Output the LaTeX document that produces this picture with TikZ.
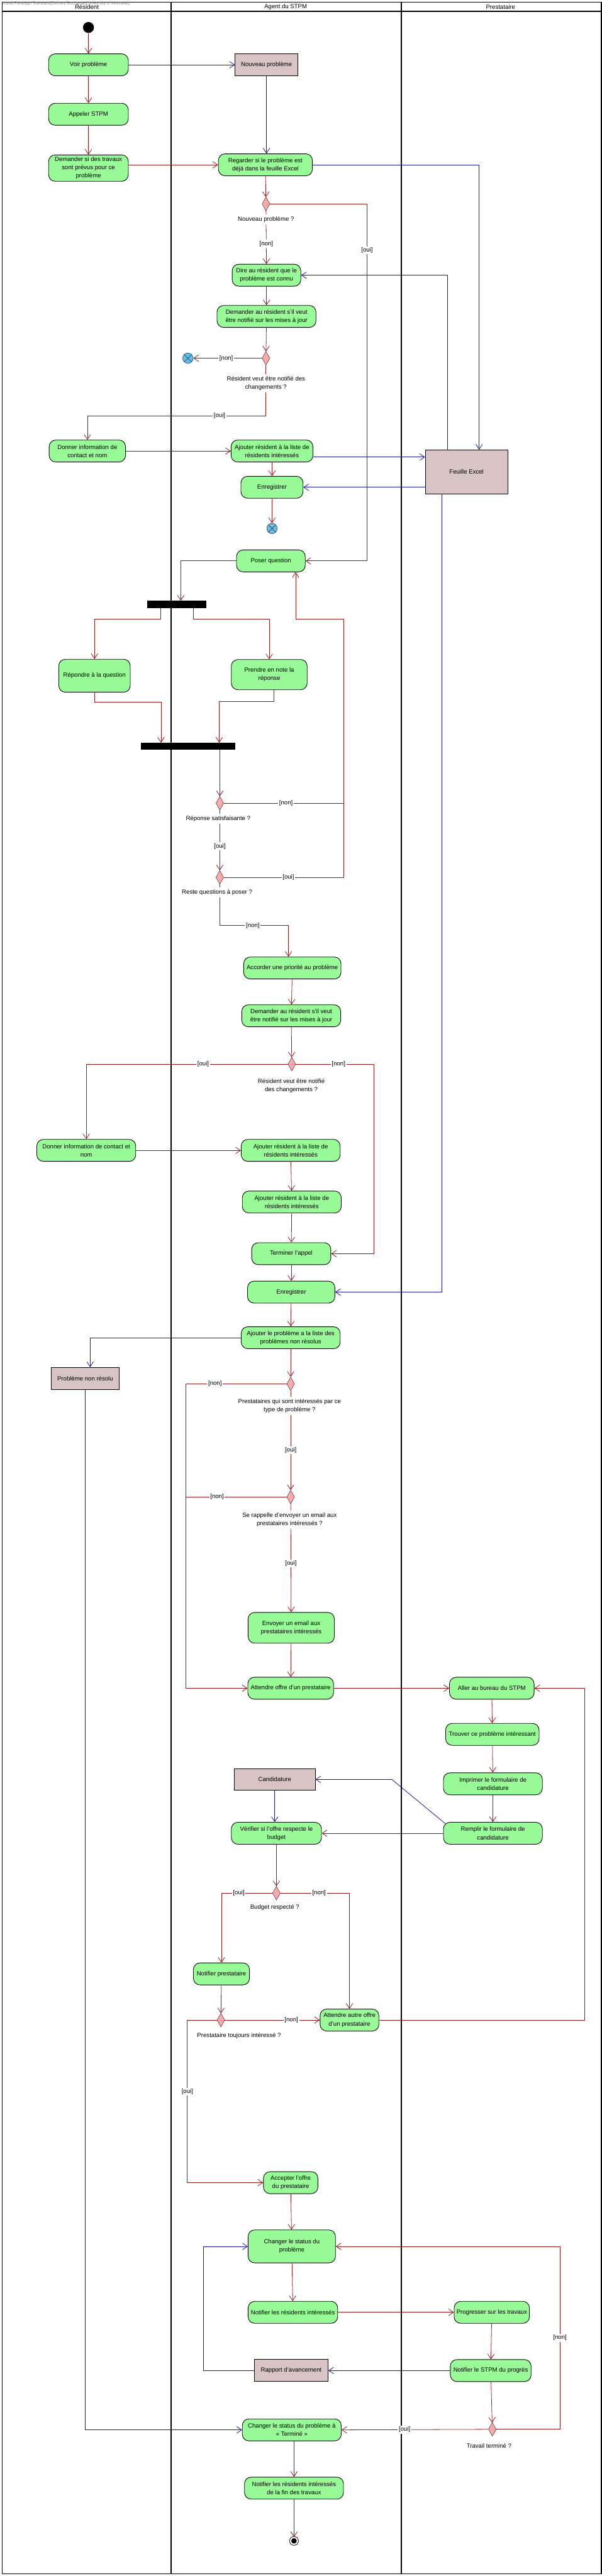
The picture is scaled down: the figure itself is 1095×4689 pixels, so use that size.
\documentclass[tikz,border=0pt]{standalone}
\usepackage{fontspec}
\setmainfont{Liberation Sans}
\usetikzlibrary{arrows.meta, shapes.geometric, positioning}
\definecolor{actgreen}{RGB}{152,251,152}
\definecolor{objfill}{RGB}{216,196,196}
\definecolor{decfill}{RGB}{255,170,170}
\definecolor{flowred}{RGB}{150,20,20}
\definecolor{objblue}{RGB}{20,20,165}
\definecolor{ffblue}{RGB}{100,190,230}
\begin{document}
\begin{tikzpicture}[x=1pt, y=-1pt,
every node/.style = {font=\fontsize{11}{15}\selectfont},
       act/.style = {rectangle, rounded corners=12pt, draw, line width=1pt, fill=actgreen,
                     align=center, inner sep=2pt, minimum height=40pt},
       obj/.style = {rectangle, draw, line width=1pt, fill=objfill, align=center, minimum height=40pt},
       dec/.style = {diamond, draw, fill=decfill, minimum width=14pt, minimum height=25pt, inner sep=0pt},
       bar/.style = {rectangle, fill=black, inner sep=0pt},
     start/.style = {circle, fill=black, minimum size=20pt, inner sep=0pt},
    endact/.style = {circle, fill=black, minimum size=13pt, inner sep=0pt, draw=black,
                     line width=1pt, double=white, double distance=2.5pt},
   endflow/.style = {circle, draw, fill=ffblue, minimum size=19pt, inner sep=0pt,
                     path picture={\draw (path picture bounding box.north west) -- (path picture bounding box.south east)
                                         (path picture bounding box.north east) -- (path picture bounding box.south west);}},
      flow/.style = {draw=flowred, line width=0.9pt, -{Straight Barb[length=9pt,width=12pt]}},
     oflow/.style = {draw=objblue, line width=0.9pt, -{Straight Barb[length=9pt,width=12pt]}},
     guard/.style = {fill=white, inner sep=2pt},
     quest/.style = {fill=white, inner sep=4pt, align=center}
                    ]
\useasboundingbox (0,0) rectangle (1095,4689);
% swimlanes
\draw[line width=2pt] (4,4) rectangle (1094,4685);
\draw[line width=2pt] (4,21) -- (1094,21);
\draw[line width=2pt] (311,4) -- (311,4685);
\draw[line width=2pt] (730,4) -- (730,4685);
\node (wm) [anchor=west, text=gray, font=\fontsize{7.5}{8}\selectfont] at (0,7) {Visual Paradigm Standard(Zachary Bochanski(University of Montreal))};
\node (laneres) at (158,13) {Résident};
\node (laneagt) at (520,13) {Agent du STPM};
\node (lanepre) at (911,13) {Prestataire};

% appel du resident
\node (start) [start] at (161,50) {};
\node (voir) [act, minimum width=145pt] at (161,118) {Voir problème};
\node (nouveau) [obj, minimum width=114pt] at (485,118) {Nouveau problème};
\node (appeler) [act, minimum width=145pt] at (161,208) {Appeler STPM};
\node (demander) [act, minimum width=145pt, minimum height=48pt] at (161,306) {Demander si des travaux\\sont prévus pour ce\\problème};
\node (regarder) [act, minimum width=171pt] at (483,300) {Regarder si le problème est\\déjà dans la feuille Excel};
\node (d1) [dec] at (484,371) {};
\node (dire) [act, minimum width=125pt] at (485,501) {Dire au résident que le\\problème est connu};
\node (dem1) [act, minimum width=180pt] at (485,576) {Demander au résident s'il veut\\être notifié sur les mises à jour};
\node (d2) [dec] at (484,652) {};
\node (ff1) [endflow] at (342,652) {};
\node (donner1) [act, minimum width=139pt] at (159,821) {Donner information de\\contact et nom};
\node (ajout1) [act, minimum width=149pt] at (495,821) {Ajouter résident à la liste de\\résidents intéressés};
\node (feuille) [obj, minimum width=150pt, minimum height=80pt] at (849,859) {Feuille Excel};
\node (enreg1) [act, minimum width=113pt] at (495,887) {Enregistrer};
\node (ff2) [endflow] at (495,962) {};

% questions
\node (poser) [act, minimum width=125pt] at (493,1021) {Poser question};
\node (fork1) [bar, minimum width=108pt, minimum height=13pt] at (322,1100) {};
\node (repondre) [act, minimum width=130pt, minimum height=60pt] at (172,1230) {Répondre à la question};
\node (prendre) [act, minimum width=138pt, minimum height=55pt] at (490,1228) {Prendre en note la\\réponse};
\node (join1) [bar, minimum width=172pt, minimum height=12pt] at (342,1358) {};
\node (d3) [dec] at (400,1462) {};
\node (d4) [dec] at (400,1597) {};
\node (accorder) [act, minimum width=177pt] at (532,1762) {Accorder une priorité au problème};
\node (dem2) [act, minimum width=180pt] at (530,1849) {Demander au résident s'il veut\\être notifié sur les mises à jour};
\node (d5) [dec] at (531,1937) {};
\node (donner2) [act, minimum width=180pt] at (157,2094) {Donner information de contact et\\nom};
\node (ajout2) [act, minimum width=180pt] at (529,2094) {Ajouter résident à la liste de\\résidents intéressés};
\node (ajout3) [act, minimum width=180pt] at (531,2188) {Ajouter résident à la liste de\\résidents intéressés};
\node (terminer) [act, minimum width=144pt] at (530,2282) {Terminer l'appel};
\node (enreg2) [act, minimum width=159pt] at (530,2352) {Enregistrer};

% offres des prestataires
\node (ajoutpb) [act, minimum width=180pt] at (529,2435) {Ajouter le problème a la liste des\\problèmes non résolus};
\node (pbnr) [obj, minimum width=123pt] at (155,2509) {Problème non résolu};
\node (d6) [dec] at (529,2519) {};
\node (d7) [dec] at (529,2725) {};
\node (envoyer) [act, minimum width=157pt, minimum height=56pt] at (530,2963) {Envoyer un email aux\\prestataires intéressés};
\node (attendre) [act, minimum width=156pt] at (529,3073) {Attendre offre d'un prestataire};
\node (aller) [act, minimum width=154pt] at (895,3073) {Aller au bureau du STPM};
\node (trouver) [act, minimum width=170pt] at (896,3157) {Trouver ce problème intéressant};
\node (imprimer) [act, minimum width=180pt] at (897,3247) {Imprimer le formulaire de\\candidature};
\node (remplir) [act, minimum width=180pt] at (897,3337) {Remplir le formulaire de\\candidature};
\node (candidature) [obj, minimum width=147pt] at (500,3239) {Candidature};
\node (verifier) [act, minimum width=164pt] at (503,3337) {Vérifier si l'offre respecte le\\budget};
\node (d8) [dec] at (503,3446) {};
\node (notifp) [act, minimum width=102pt] at (403,3593) {Notifier prestataire};
\node (d9) [dec] at (402,3677) {};
\node (attautre) [act, minimum width=107pt] at (636,3677) {Attendre autre offre\\d'un prestataire};

% travaux
\node (accepter) [act, minimum width=99pt] at (529,3973) {Accepter l'offre\\du prestataire};
\node (changer) [act, minimum width=159pt, minimum height=60pt] at (531,4089) {Changer le status du\\problème};
\node (notifres) [act, minimum width=163pt] at (533,4209) {Notifier les résidents intéressés};
\node (progresser) [act, minimum width=137pt] at (895,4209) {Progresser sur les travaux};
\node (rapport) [obj, minimum width=134pt] at (530,4315) {Rapport d'avancement};
\node (notifstpm) [act, minimum width=147pt] at (893,4315) {Notifier le STPM du progrès};
\node (d10) [dec] at (896,4422) {};
\node (changerfin) [act, minimum width=180pt] at (531,4423) {Changer le status du problème à\\« Terminé »};
\node (notiffin) [act, minimum width=180pt] at (535,4529) {Notifier les résidents intéressés\\de la fin des travaux};
\node (final) [endact] at (535,4625) {};

% flots de controle
\draw[flow] (start) -- (voir);
\draw[oflow] (voir.east) -- (nouveau.west);
\draw[flow] (voir) -- (appeler);
\draw[flow] (appeler) -- (demander);
\draw[flow] (demander.east |- regarder.west) -- (regarder.west);
\draw[oflow] (nouveau.south) -- (nouveau.south |- regarder.north);
\draw[oflow] (regarder.east) -| ([xshift=23pt]feuille.north);
\draw[flow] (regarder) -- (d1);
\draw[flow] (d1.east) -- (668,371) |- node[guard, pos=0.065] {[oui]} (poser.east);
\draw[flow] (d1) -- node[guard, pos=0.62] {[non]} (dire);
\draw[oflow] ([xshift=-35pt]feuille.north) |- (dire.east);
\draw[flow] (dire) -- (dem1);
\draw[flow] (dem1) -- (d2);
\draw[flow] (d2.west) -- node[guard, pos=0.52] {[non]} (ff1.east);
\draw[flow] (d2.south) -- ++(0,92) -| node[guard, pos=0.13] {[oui]} (donner1.north);
\draw[flow] (donner1.east) -- (ajout1.west);
\coordinate (a1x) at ([yshift=-11pt]ajout1.east);
\draw[oflow] (a1x) -- (a1x -| feuille.west);
\draw[flow] (ajout1) -- (enreg1);
\draw[oflow] (feuille.west |- enreg1.east) -- (enreg1.east);
\draw[flow] (enreg1) -- (ff2);
\draw[flow] (poser.west) -| ([xshift=7pt]fork1.north);
\draw[flow] ([xshift=-30pt]fork1.south) -- ++(0,20) -| (repondre.north);
\draw[flow] ([xshift=30pt]fork1.south) -- ++(0,20) -| (prendre.north);
\draw[flow] (repondre.south) -- ++(0,17) -| ([xshift=-49pt]join1.north);
\draw[flow] ([xshift=8pt]prendre.south) -- ++(0,21) -| ([xshift=57pt]join1.north);
\draw[flow] (d3.north |- join1.south) -- (d3.north);
\draw[flow] (d3.east) -| node[guard, pos=0.26] {[non]} (625,1127) -| ([xshift=45pt]poser.south);
\draw[flow] (d3) -- node[guard, pos=0.6] {[oui]} (d4);
\draw[draw=flowred, line width=0.9pt] (d4.east) -- node[guard, pos=0.54] {[oui]} (625,1597) -- (625,1462);
\draw[flow] (d4.south) -- ++(0,75) -| node[guard, pos=0.24] {[non]} ([xshift=-7pt]accorder.north);
\draw[flow] (accorder) -- (dem2);
\draw[flow] (dem2) -- (d5);
\draw[flow] (d5.west) -| node[guard, pos=0.21] {[oui]} (donner2.north);
\draw[flow] (d5.east) -- node[guard, pos=0.55] {[non]} (680,1937) |- (terminer.east);
\draw[flow] (donner2.east) -- (ajout2.west);
\draw[flow] (ajout2) -- (ajout3);
\draw[flow] (ajout3) -- (terminer);
\draw[flow] (terminer) -- (enreg2);
\draw[oflow] ([xshift=-45pt]feuille.south) |- (enreg2.east);
\draw[flow] (enreg2) -- (ajoutpb);
\draw[oflow] (ajoutpb.west) -| ([xshift=9pt]pbnr.north);
\draw[oflow] (pbnr.south) |- (changerfin.west);
\draw[flow] (ajoutpb) -- (d6);
\draw[flow] (d6.west) -- node[guard, pos=0.71] {[non]} (338,2519) |- (attendre.west);
\draw[flow] (d6) -- node[guard, pos=0.6] {[oui]} (d7);
\draw[draw=flowred, line width=0.9pt] (d7.west) -- node[guard, pos=0.69] {[non]} (338,2725);
\draw[flow] (d7) -- node[guard, pos=0.55] {[oui]} (envoyer);
\draw[flow] (envoyer) -- (attendre);
\draw[flow] (attendre.east) -- (aller.west);
\draw[flow] (aller) -- (trouver);
\draw[flow] (trouver) -- (imprimer);
\draw[flow] (imprimer) -- (remplir);
\draw[flow] (remplir.west) -- (verifier.east);
\draw[oflow] ([xshift=4pt,yshift=-3pt]remplir.north west) -- ([xshift=139pt]candidature.east) -- (candidature.east);
\draw[oflow] (candidature) -- (candidature |- verifier.north);
\draw[flow] (verifier) -- (d8);
\draw[flow] (d8.west) -| node[guard, pos=0.33] {[oui]} (notifp.north);
\draw[flow] (d8.east) -| node[guard, pos=0.28] {[non]} (attautre.north);
\draw[flow] (notifp) -- (d9);
\draw[flow] (d9.east) -- node[guard, pos=0.7] {[non]} (attautre.west);
\draw[flow] (d9.west) -- (341,3677) |- node[guard, pos=0.22] {[oui]} (accepter.west);
\draw[flow] (attautre.east) -- (1064,3677) |- (aller.east);
\draw[flow] (accepter) -- (changer);
\draw[flow] (changer) -- (notifres);
\draw[flow] (notifres.east) -- (progresser.west);
\draw[flow] (progresser) -- (notifstpm);
\draw[oflow] (notifstpm.west) -- (rapport.east);
\draw[oflow] (rapport.west) -- (370,4315) |- (changer.west);
\draw[flow] (notifstpm) -- (d10);
\draw[flow] (d10.west) -- node[guard, pos=0.57] {[oui]} (changerfin.east);
\draw[flow] (d10.east) -- (1019,4422) |- node[guard, pos=0.25] {[non]} (changer.east);
\draw[flow] (notiffin.north |- changerfin.south) -- (notiffin.north);
\draw[flow] (notiffin) -- (final);

% questions des decisions
\node (q1) [quest] at (484,400) {Nouveau problème ?};
\node (q2) [quest] at (484,698) {Résident veut être notifié des\\changements ?};
\node (q3) [quest] at (397,1491) {Réponse satisfaisante ?};
\node (q4) [quest] at (395,1624) {Reste questions à poser ?};
\node (q5) [quest] at (530,1976) {Résident veut être notifié\\des changements ?};
\node (q6) [quest] at (527,2559) {Prestataires qui sont intéressés par ce\\type de problème ?};
\node (q7) [quest] at (527,2766) {Se rappelle d'envoyer un email aux\\prestataires intéressés ?};
\node (q8) [quest] at (500,3472) {Budget respecté ?};
\node (q9) [quest] at (435,3705) {Prestataire toujours intéressé ?};
\node (q10) [quest] at (890,4452) {Travail terminé ?};
\end{tikzpicture}
\end{document}
